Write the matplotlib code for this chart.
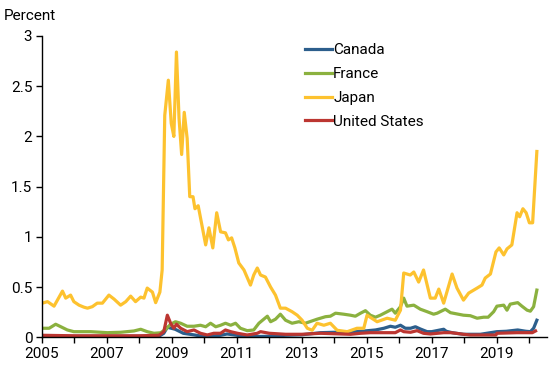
import matplotlib
matplotlib.use('Agg')
import matplotlib.pyplot as plt
from matplotlib.ticker import MultipleLocator, FuncFormatter

plt.rcParams['font.family'] = ['Roboto', 'DejaVu Sans']

# dates as decimal years, values in percent
japan_t = [2005.01, 2005.17, 2005.37, 2005.63, 2005.73, 2005.88, 2005.98, 2006.14, 2006.29, 2006.40,
           2006.55, 2006.70, 2006.86, 2007.06, 2007.22, 2007.42, 2007.58, 2007.73, 2007.88, 2008.04,
           2008.14, 2008.24, 2008.40, 2008.50, 2008.63, 2008.70, 2008.78, 2008.89, 2008.98, 2009.06,
           2009.14, 2009.22, 2009.30, 2009.38, 2009.47, 2009.55, 2009.65, 2009.71, 2009.81, 2009.94,
           2010.04, 2010.14, 2010.26, 2010.38, 2010.50, 2010.65, 2010.74, 2010.84, 2010.94, 2011.06,
           2011.22, 2011.42, 2011.52, 2011.63, 2011.73, 2011.88, 2012.04, 2012.19, 2012.34, 2012.50,
           2012.70, 2012.86, 2013.01, 2013.17, 2013.32, 2013.47, 2013.68, 2013.88, 2014.09, 2014.40,
           2014.70, 2014.91, 2015.01, 2015.32, 2015.63, 2015.88, 2016.04, 2016.14, 2016.34, 2016.45,
           2016.60, 2016.75, 2016.96, 2017.11, 2017.22, 2017.37, 2017.63, 2017.78, 2017.98, 2018.14,
           2018.40, 2018.55, 2018.65, 2018.81, 2018.98, 2019.08, 2019.22, 2019.32, 2019.47, 2019.63,
           2019.71, 2019.81, 2019.91, 2020.01, 2020.11, 2020.24]
japan_v = [0.34, 0.355, 0.31, 0.46, 0.39, 0.42, 0.355, 0.32, 0.30, 0.29,
           0.305, 0.34, 0.34, 0.42, 0.38, 0.32, 0.355, 0.41, 0.355, 0.40,
           0.39, 0.49, 0.45, 0.345, 0.45, 0.67, 2.21, 2.56, 2.13, 2.00,
           2.84, 2.18, 1.82, 2.24, 1.98, 1.40, 1.40, 1.28, 1.31, 1.09,
           0.92, 1.09, 0.89, 1.24, 1.05, 1.04, 0.97, 0.99, 0.89, 0.74,
           0.67, 0.52, 0.62, 0.69, 0.62, 0.60, 0.50, 0.42, 0.29, 0.29,
           0.255, 0.22, 0.17, 0.09, 0.07, 0.14, 0.12, 0.14, 0.07, 0.056,
           0.09, 0.09, 0.22, 0.155, 0.19, 0.17, 0.27, 0.64, 0.62, 0.65,
           0.55, 0.67, 0.39, 0.39, 0.48, 0.34, 0.63, 0.49, 0.37, 0.44,
           0.49, 0.52, 0.59, 0.63, 0.85, 0.89, 0.82, 0.88, 0.92, 1.24,
           1.20, 1.28, 1.24, 1.14, 1.14, 1.85]

france_t = [2005.01, 2005.22, 2005.42, 2005.58, 2005.78, 2005.98, 2006.50, 2007.01, 2007.42, 2007.83,
            2008.04, 2008.24, 2008.45, 2008.65, 2008.81, 2008.96, 2009.11, 2009.27, 2009.47, 2009.68,
            2009.88, 2010.04, 2010.19, 2010.35, 2010.50, 2010.65, 2010.81, 2010.96, 2011.11, 2011.32,
            2011.52, 2011.68, 2011.94, 2012.04, 2012.19, 2012.34, 2012.50, 2012.70, 2012.91, 2013.11,
            2013.47, 2013.73, 2013.88, 2014.04, 2014.29, 2014.50, 2014.65, 2014.81, 2014.96, 2015.11,
            2015.27, 2015.42, 2015.63, 2015.78, 2015.88, 2016.04, 2016.14, 2016.24, 2016.45, 2016.65,
            2016.86, 2017.06, 2017.17, 2017.42, 2017.58, 2017.98, 2018.19, 2018.40, 2018.60, 2018.74,
            2018.91, 2019.01, 2019.22, 2019.32, 2019.42, 2019.65, 2019.78, 2019.94, 2020.04, 2020.14,
            2020.24]
france_v = [0.09, 0.09, 0.13, 0.105, 0.073, 0.056, 0.056, 0.046, 0.05, 0.063,
            0.08, 0.056, 0.04, 0.045, 0.08, 0.13, 0.155, 0.14, 0.11, 0.11,
            0.12, 0.105, 0.14, 0.105, 0.12, 0.14, 0.12, 0.14, 0.09, 0.066,
            0.073, 0.14, 0.21, 0.155, 0.18, 0.23, 0.17, 0.14, 0.155, 0.14,
            0.18, 0.205, 0.21, 0.24, 0.23, 0.22, 0.21, 0.24, 0.265, 0.22,
            0.20, 0.22, 0.255, 0.28, 0.24, 0.305, 0.39, 0.31, 0.32, 0.28,
            0.255, 0.23, 0.24, 0.28, 0.245, 0.22, 0.215, 0.19, 0.20, 0.20,
            0.255, 0.31, 0.32, 0.27, 0.33, 0.345, 0.31, 0.27, 0.26, 0.305,
            0.47]

canada_t = [2005.0, 2006.0, 2007.0, 2008.0, 2008.6, 2008.75, 2008.86, 2009.1, 2009.35, 2009.7,
            2010.0, 2010.5, 2010.7, 2011.0, 2011.3, 2012.0, 2012.5, 2013.0, 2013.58, 2014.7,
            2015.27, 2015.53, 2015.73, 2015.88, 2016.04, 2016.19, 2016.35, 2016.5, 2016.65, 2016.86,
            2017.0, 2017.37, 2017.45, 2017.63, 2017.98, 2018.5, 2019.01, 2019.3, 2019.65, 2019.9,
            2020.04, 2020.14, 2020.24]
canada_v = [0.01, 0.01, 0.01, 0.01, 0.01, 0.04, 0.10, 0.08, 0.04, 0.023,
            0.006, 0.02, 0.033, 0.02, 0.006, 0.01, 0.02, 0.025, 0.046, 0.056,
            0.073, 0.09, 0.11, 0.10, 0.12, 0.09, 0.09, 0.105, 0.083, 0.056,
            0.056, 0.08, 0.06, 0.046, 0.03, 0.03, 0.056, 0.06, 0.073, 0.06,
            0.056, 0.09, 0.17]

us_t = [2005.0, 2006.0, 2007.0, 2008.0, 2008.6, 2008.75, 2008.86, 2008.96, 2009.06, 2009.14,
        2009.27, 2009.47, 2009.68, 2009.88, 2010.09, 2010.29, 2010.5, 2010.65, 2010.81, 2011.02,
        2011.32, 2011.63, 2011.73, 2012.0, 2012.5, 2013.0, 2013.58, 2014.5, 2014.81, 2015.11,
        2015.88, 2016.04, 2016.14, 2016.35, 2016.55, 2016.75, 2016.96, 2017.37, 2017.6, 2017.98,
        2018.19, 2018.98, 2019.01, 2019.63, 2020.1, 2020.2]
us_v = [0.02, 0.015, 0.015, 0.015, 0.02, 0.056, 0.22, 0.14, 0.09, 0.13,
        0.09, 0.056, 0.073, 0.04, 0.023, 0.04, 0.04, 0.073, 0.056, 0.04,
        0.023, 0.04, 0.056, 0.04, 0.03, 0.03, 0.04, 0.03, 0.04, 0.046,
        0.046, 0.073, 0.056, 0.05, 0.066, 0.04, 0.033, 0.046, 0.046, 0.03,
        0.023, 0.023, 0.04, 0.046, 0.046, 0.063]

fig = plt.figure(figsize=(5.5, 3.65), dpi=100)
ax = fig.add_axes([0.0764, 0.0759, 0.918, 0.8255])

lw = 2.3
ax.plot(canada_t, canada_v, color='#2c5e8c', lw=lw, label='Canada')
ax.plot(france_t, france_v, color='#8bb13f', lw=lw, label='France')
ax.plot(japan_t, japan_v, color='#fdc22f', lw=lw, label='Japan')
ax.plot(us_t, us_v, color='#bc3631', lw=lw, label='United States')

ax.set_xlim(2005, 2020.55)
ax.set_ylim(0, 3)
ax.xaxis.set_major_locator(MultipleLocator(1))
ax.xaxis.set_major_formatter(FuncFormatter(lambda x, p: f'{int(round(x))}' if int(round(x)) % 2 == 1 else ''))
ax.yaxis.set_major_locator(MultipleLocator(0.5))
ax.yaxis.set_major_formatter(FuncFormatter(lambda y, p: f'{y:g}'))

for s in ['top', 'right']:
    ax.spines[s].set_visible(False)
ax.spines['left'].set_linewidth(1.0)
ax.spines['bottom'].set_linewidth(1.0)
ax.tick_params(axis='both', direction='out', length=4, width=1.0, labelsize=11, colors='black')
ax.tick_params(axis='x', pad=3)
ax.tick_params(axis='y', pad=3)

fig.text(0.006, 0.955, 'Percent', fontsize=11, ha='left', va='center')

ax.legend(loc='upper left', bbox_to_anchor=(0.5545, 0.881), bbox_transform=fig.transFigure,
          frameon=False, fontsize=11, handlelength=1.75, handletextpad=0.1,
          labelspacing=0.64, borderaxespad=0, borderpad=0)

fig.savefig('out.png', dpi=100)
